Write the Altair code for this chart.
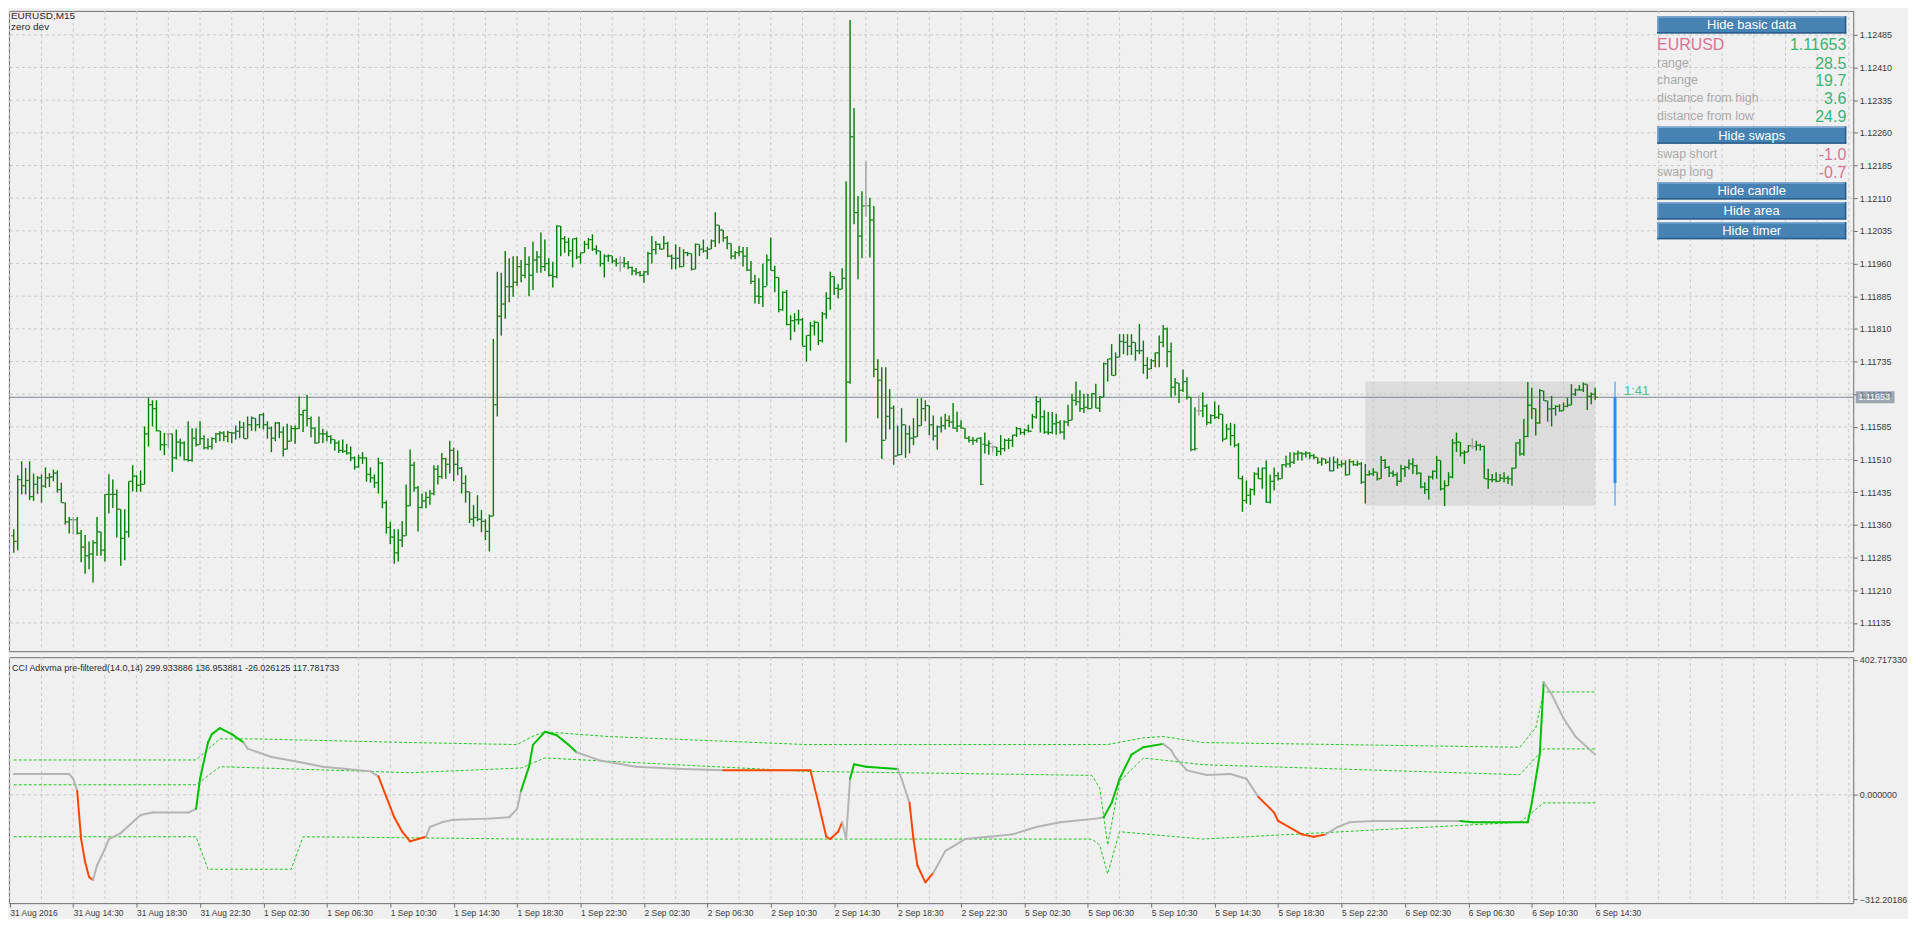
import json
import altair as alt
import pandas as pd

# ---------------- price data (points above 1.11000, 1 point = 0.00001) ----------------
BASE = 1.11000
PT = 0.00001

OPEN = [
335,322,464,450,462,425,453,468,449,468, 470,479,441,411,367,372,372,341,309,289,
293,319,344,302,430,430,430,396,329,344, 460,472,451,453,569,636,627,576,544,569,
569,514,550,548,510,508,559,544,558,537, 540,558,569,571,563,572,571,575,584,558,
590,605,590,613,590,582,559,594,573,534, 552,581,581,613,623,604,582,548,569,569,
563,556,548,531,529,525,514,493,514,514, 476,468,457,502,411,354,332,296,325,335,
404,497,445,400,415,423,432,488,471,512, 499,531,499,490,455,436,373,377,373,368,
345,380,636,839,867,907,907,917,953,933, 958,933,968,975,953,960,933,930,1046,1017,
1009,989,1017,975,985,1004,1015,993,989,960, 977,978,966,962,962,960,951,943,939,933,
941,983,992,1004,993,1006,977,972,972,953, 985,983,947,1004,993,989,993,1012,1048,1037,
1019,1006,977,985,987,977,945,919,885,884, 907,968,944,928,854,894,820,829,831,831,
770,795,817,825,783,844,880,930,903,901, 926,688,1251,1077,1023,1093,1093,1060,717,692,
554,609,628,518,521,590,569,559,562,588, 627,634,590,564,585,588,600,596,582,587,
582,559,554,554,559,545,543,539,539,529, 535,554,554,566,581,572,577,575,608,643,
608,573,572,592,595,573,596,600,646,643, 627,630,627,661,628,653,730,741,703,745,
781,779,770,779,760,760,726,718,737,755, 779,810,758,676,686,669,689,653,533,622,
622,633,595,611,607,614,557,580,565,543, 466,416,428,441,477,466,490,412,460,473,
466,498,500,504,523,525,523,525,519,515, 504,511,504,484,504,498,500,475,505,498,
500,458,475,477,481,466,508,492,479,475, 460,489,492,500,496,479,447,441,470,483,
508,443,450,470,548,550,525,527,540,540, 543,540,466,464,464,460,467,467,466,490,
548,523,563,635,627,594,668,645,626,627, 632,622,632,635,660,670,670,683,655,660,
]
HIGH = [
350,474,506,491,506,478,472,476,492,479, 487,485,457,411,378,378,378,348,337,322,
325,378,344,431,476,464,441,396,396,460, 497,474,485,586,652,646,646,576,571,571,
569,579,558,552,598,582,582,598,566,559, 561,571,575,575,576,573,588,599,596,609,
609,605,614,617,598,586,596,596,586,592, 588,588,655,624,659,609,584,609,581,575,
566,556,554,556,546,540,517,521,527,515, 492,476,514,504,416,367,350,350,369,453,
533,505,449,432,436,440,497,497,525,514, 553,537,531,493,474,436,406,428,394,373,
384,787,941,939,989,972,977,977,968,998, 977,1010,989,1031,1015,972,964,1048,1046,1023,
1019,1017,1020,985,1012,1019,1027,1002,989,981, 981,978,972,977,975,966,953,950,943,943,
987,1023,1012,1006,1023,1010,981,1004,998,993, 987,983,1006,1004,1015,998,1015,1078,1048,1037,
1023,1006,989,1000,998,998,966,934,926,960, 981,1020,955,928,896,899,841,846,854,835,
795,826,829,825,849,894,941,930,913,949, 1149,1519,1317,1115,1126,1195,1111,1092,740,722,
722,672,634,588,628,590,588,605,650,651, 646,634,611,588,608,615,611,640,620,600,
582,564,562,559,562,572,554,543,539,566, 558,559,567,585,582,581,590,615,656,651,
623,619,619,615,600,600,636,661,689,669, 661,661,663,684,656,733,741,775,756,798,
798,798,798,779,821,783,745,741,756,795, 819,813,779,697,686,717,699,653,630,657,
664,637,614,643,635,614,592,594,592,548, 473,462,444,481,492,492,508,475,492,481,
500,519,527,527,531,527,529,527,523,515, 515,511,515,517,513,508,508,511,508,508,
504,500,485,490,481,518,511,495,485,480, 498,496,510,513,498,480,458,473,485,518,
508,462,481,557,572,550,531,543,559,553, 546,542,489,477,481,477,481,473,492,550,
557,603,688,675,627,672,668,645,656,635, 637,641,652,683,673,681,687,683,664,675,
]
LOW = [
296,302,430,430,417,415,431,411,445,447, 460,434,411,361,340,338,338,274,248,258,
228,289,289,276,386,399,331,266,279,331, 437,436,436,453,540,586,575,531,520,537,
482,510,517,508,505,505,540,544,533,533, 533,548,552,552,550,548,556,559,558,558,
576,575,582,579,558,527,552,559,517,533, 552,546,580,573,586,561,546,548,548,552,
546,530,525,525,521,506,487,491,500,459, 457,445,432,398,340,316,271,276,309,335,
403,436,345,398,398,406,428,453,466,466, 478,460,474,432,411,364,356,368,343,325,
299,380,609,795,833,871,884,909,917,926, 885,899,939,939,943,930,905,926,977,985,
977,951,970,960,985,993,989,981,953,928, 964,960,953,941,951,947,933,933,930,916,
933,960,981,992,993,975,947,947,951,953, 977,944,947,977,985,970,993,998,1006,1010,
993,970,970,977,953,943,913,868,867,860, 909,944,894,848,852,818,784,803,820,770,
735,760,795,773,779,833,854,888,880,901, 549,684,1050,924,972,1068,974,699,605,511,
556,579,498,518,521,514,524,543,562,588, 598,566,554,533,572,579,585,581,573,581,
558,549,544,549,451,524,521,526,518,520, 529,534,539,562,567,566,572,581,604,572,
569,567,569,567,569,556,587,600,634,620, 617,625,627,628,619,653,689,703,703,745,
752,749,750,737,752,707,695,718,722,722, 768,722,653,657,640,665,648,529,531,611,
607,589,592,603,603,551,557,542,538,466, 390,409,406,428,466,443,411,409,439,462,
466,492,492,500,508,508,515,511,511,500, 496,500,483,483,489,492,473,475,496,495,
454,409,473,472,462,466,489,470,470,449, 458,470,487,477,475,444,431,418,464,466,
439,403,450,467,527,517,500,527,534,531, 531,466,443,458,458,460,458,454,450,490,
519,519,561,603,565,592,645,597,586,611, 620,622,630,635,656,668,665,624,637,647,
]
CLOSE = [
322,464,450,462,425,453,468,449,468,470, 479,441,411,367,372,372,341,309,289,293,
319,344,302,430,430,430,396,329,344,460, 472,451,453,569,636,627,576,544,544,569,
514,550,548,510,508,559,544,558,537,540, 558,569,571,563,572,571,575,584,558,590,
605,590,613,590,582,559,594,573,534,552, 581,581,613,623,604,582,548,569,569,563,
556,548,531,529,525,514,493,514,514,476, 468,457,502,411,354,332,296,325,335,404,
497,445,400,415,423,432,488,471,512,499, 531,499,490,455,436,373,377,373,368,345,
380,636,839,867,907,907,917,953,933,958, 933,968,975,953,960,933,930,1046,1017,1009,
989,1017,975,985,1004,1015,993,989,960,977, 978,966,960,962,960,951,943,939,933,941,
983,992,1004,993,1006,977,972,972,953,985, 983,947,1004,993,989,993,1012,1048,1037,1019,
1006,977,985,987,977,945,919,885,884,907, 968,944,928,854,894,820,829,831,831,770,
795,817,825,783,844,880,930,903,901,926, 688,1251,1077,1023,1092,1093,1060,717,692,554,
609,628,518,521,590,569,559,562,588,627, 634,590,564,585,588,600,596,582,587,582,
559,554,554,559,453,543,547,539,529,535, 554,554,566,581,572,577,575,608,643,608,
573,572,592,595,573,596,600,646,643,627, 630,627,661,628,653,730,741,703,745,781,
779,770,779,760,760,726,718,737,755,779, 810,758,676,686,669,689,653,533,535,622,
633,595,611,607,614,557,580,565,543,466, 416,428,441,477,466,490,412,460,473,466,
498,500,504,523,525,523,525,519,515,504, 511,504,484,504,498,500,475,505,498,500,
458,475,477,481,466,508,492,479,475,460, 489,492,500,496,479,447,441,470,483,508,
443,450,470,548,550,525,527,542,540,543, 540,466,464,464,460,467,467,466,490,548,
523,563,635,627,594,668,645,626,627,632, 622,632,635,660,670,670,683,655,660,653,
]
DOJI_BARS = [15, 39, 153, 215, 247, 299, 368]

LAST_PRICE = 1.11653
DAY_OPEN, DAY_HIGH, DAY_LOW = 1.11456, 1.11689, 1.11404
DAY_FIRST_BAR, LAST_BAR = 341, 399
TIMER_BAR, TIMER_TEXT = 404, "1:41"

TIME_IDX = [-1, 15, 31, 47, 63, 79, 95, 111, 127, 143, 159, 175, 191, 207, 223,
            239, 255, 271, 287, 303, 319, 335, 351, 367, 383, 399]
TIME_LABELS = ["31 Aug 2016", "31 Aug 14:30", "31 Aug 18:30", "31 Aug 22:30",
               "1 Sep 02:30", "1 Sep 06:30", "1 Sep 10:30", "1 Sep 14:30", "1 Sep 18:30",
               "1 Sep 22:30", "2 Sep 02:30", "2 Sep 06:30", "2 Sep 10:30", "2 Sep 14:30",
               "2 Sep 18:30", "2 Sep 22:30", "5 Sep 02:30", "5 Sep 06:30", "5 Sep 10:30",
               "5 Sep 14:30", "5 Sep 18:30", "5 Sep 22:30", "6 Sep 02:30", "6 Sep 06:30",
               "6 Sep 10:30", "6 Sep 14:30"]
PRICE_TICKS = [1.11135, 1.11210, 1.11285, 1.11360, 1.11435, 1.11510, 1.11585, 1.11660,
               1.11735, 1.11810, 1.11885, 1.11960, 1.12035, 1.12110, 1.12185, 1.12260,
               1.12335, 1.12410, 1.12485]
CCI_TICKS = [402.717330, 0.0, -312.201864]

# ---------------- indicator data ----------------
CCI_IDX = [0,14,15,16,17,18,19,20,21,23,24,27,32,35,44,46,47,49,50,52,55,58,59,65,72,78,84,90,92,94,
           96,98,100,102,104,105,108,111,120,125,127,128,130,131,134,137,140,142,148,157,169,179,201,
           203,205,206,208,209,210,211,212,215,223,224,226,227,228,230,232,235,240,246,252,258,264,
           273,275,277,279,282,285,290,292,293,296,301,307,311,314,318,319,325,328,331,334,337,343,
           365,368,382,383,385,386,388,391,394,399]
CCI_VAL = [62,62,48,12,-132,-200,-245,-254,-211,-161,-132,-114,-60,-53,-53,-42,48,156,181,199,181,
           156,138,113,98,84,77,70,55,-6,-67,-110,-139,-132,-125,-96,-82,-74,-71,-67,-42,12,84,149,
           188,178,149,127,102,84,77,73,73,-24,-125,-132,-110,-82,-132,48,91,84,77,48,-24,-132,-211,
           -261,-233,-168,-132,-125,-118,-96,-82,-71,-67,-24,48,120,142,152,134,113,73,59,62,48,-6,
           -53,-78,-118,-125,-118,-96,-82,-78,-78,-82,-82,-24,120,336,300,228,174,120]
# n = neutral, u = up, d = down (state of the segment that starts at each point)
CCI_STATE = "nnnddddnnnnnnnnuuuuuunnnnnnnddddddnnnnnnnuuuuuunnnnddddddnnuuunnddddnnnnnnnnuuuuunnnnnnnddddd" \
            "nnnnuuuuunnnn"

BAND_UP_IDX = [0,46,52,60,100,127,131,134,150,200,276,285,290,300,380,384,386,399]
BAND_UP_VAL = [104,104,167,167,156,150,175,188,174,150,150,170,174,156,142,200,307,307]
BAND_MID_IDX = [0,46,52,100,128,134,200,272,274,276,279,285,300,380,386,399]
BAND_MID_VAL = [30,30,84,66,80,110,70,58,20,-150,40,110,90,60,137,137]
BAND_LO_IDX = [0,46,49,70,73,130,272,274,276,279,300,380,386,399]
BAND_LO_VAL = [-125,-125,-222,-222,-125,-132,-132,-150,-236,-110,-132,-82,-24,-24]

INDICATOR_LABEL = "CCI Adxvma pre-filtered(14.0,14) 299.933886 136.953881 -26.026125 117.781733"
SYMBOL, PERIOD_LABEL, SUB_LABEL = "EURUSD", "EURUSD,M15", "zero dev"
INFO_ROWS = [("range", "28.5"), ("change", "19.7"), ("distance from high", "3.6"),
             ("distance from low", "24.9")]
SWAP_ROWS = [("swap short", "-1.0"), ("swap long", "-0.7")]
BUTTONS = ["Hide basic data", "Hide swaps", "Hide candle", "Hide area", "Hide timer"]

# ---------------- layout / style ----------------
W, HU, HL = 1852, 643, 247
FONT = "Liberation Sans"
GRID = "#c9c9c9"
BAR_GREEN = "#007c00"
xs = alt.Scale(domain=[-1.2, 464.1], nice=False, zero=False)
ysu = alt.Scale(domain=[1.11070, 1.12540], nice=False, zero=False)
ysl = alt.Scale(domain=[-323.2, 410.7], nice=False, zero=False)
one = pd.DataFrame({"k": [0]})

yaxis_u = alt.Axis(orient="right", values=PRICE_TICKS, format=".5f", grid=False, domain=False,
                   tickSize=4, tickColor="#6e6e6e", labelColor="#3a3a3a", labelFont=FONT,
                   labelFontSize=9, labelPadding=2, title=None)
xaxis_l = alt.Axis(values=TIME_IDX, orient="bottom",
                   labelExpr=f"{json.dumps(TIME_LABELS)}[indexof({json.dumps(TIME_IDX)}, datum.value)]",
                   grid=False, domain=False, tickSize=4, tickColor="#6e6e6e", labelAlign="left",
                   labelBaseline="top", labelPadding=1, labelFont=FONT, labelFontSize=8.5,
                   labelColor="#3a3a3a", labelOverlap=False, labelFlush=False, labelBound=False,
                   title=None)
yaxis_l = alt.Axis(orient="right", values=CCI_TICKS,
                   labelExpr="datum.value < 0 ? format(datum.value, '.5f') : format(datum.value, '.6f')",
                   grid=False, domain=False, tickSize=4, tickColor="#6e6e6e", labelColor="#3a3a3a",
                   labelFont=FONT, labelFontSize=9, labelPadding=2, title=None)


def xu(f):
    return alt.X(f, type="quantitative", scale=xs, axis=None)


def yu(f):
    return alt.Y(f, type="quantitative", scale=ysu, axis=yaxis_u)


def xl(f):
    return alt.X(f, type="quantitative", scale=xs, axis=xaxis_l)


def yl(f):
    return alt.Y(f, type="quantitative", scale=ysl, axis=yaxis_l)


def txt(s, x, y, **kw):
    return alt.Chart(one).mark_text(text=s, font=FONT, **kw).encode(x=alt.value(x), y=alt.value(y))


def box(x0, x1, y0, y1, color):
    return alt.Chart(one).mark_rect(color=color).encode(
        x=alt.value(x0), x2=alt.value(x1), y=alt.value(y0), y2=alt.value(y1))


bars = pd.DataFrame({
    "i": list(range(len(CLOSE))),
    "o": [BASE + v * PT for v in OPEN],
    "h": [BASE + v * PT for v in HIGH],
    "l": [BASE + v * PT for v in LOW],
    "c": [BASE + v * PT for v in CLOSE],
})
bars["col"] = ["#a0a0a0" if i in DOJI_BARS else BAR_GREEN for i in bars["i"]]
grid_idx = list(range(-1, 465, 8))

# ---------------- upper panel ----------------
area = alt.Chart(pd.DataFrame({"a": [DAY_FIRST_BAR], "b": [LAST_BAR], "lo": [DAY_LOW], "hi": [DAY_HIGH]})
                 ).mark_rect(color="#dcdcdc").encode(x=xu("a"), x2="b", y=yu("lo"), y2="hi")
vgrid_u = alt.Chart(pd.DataFrame({"g": grid_idx})).mark_rule(
    color=GRID, strokeDash=[3, 3], strokeWidth=1).encode(x=xu("g"))
hgrid_u = alt.Chart(pd.DataFrame({"p": PRICE_TICKS})).mark_rule(
    color=GRID, strokeDash=[3, 3], strokeWidth=1).encode(y=yu("p"))
pline = alt.Chart(pd.DataFrame({"p": [LAST_PRICE]})).mark_rule(
    color="#7a8594", strokeWidth=1).encode(y=yu("p"))

hl = alt.Chart(bars).mark_rule(strokeWidth=1.4).encode(
    x=xu("i"), y=yu("l"), y2="h", color=alt.Color("col:N", scale=None))
otick = alt.Chart(bars).mark_tick(orient="horizontal", size=2.5, thickness=1.2, xOffset=-1.5).encode(
    x=xu("i"), y=yu("o"), color=alt.Color("col:N", scale=None))
ctick = alt.Chart(bars).mark_tick(orient="horizontal", size=2.5, thickness=1.2, xOffset=1.5).encode(
    x=xu("i"), y=yu("c"), color=alt.Color("col:N", scale=None))

cdf = pd.DataFrame({"i": [TIMER_BAR], "lo": [DAY_LOW], "hi": [DAY_HIGH], "o": [DAY_OPEN],
                    "c": [LAST_PRICE], "t": [TIMER_TEXT]})
cwick = alt.Chart(cdf).mark_rule(color="#1e90ff", strokeWidth=1).encode(x=xu("i"), y=yu("lo"), y2="hi")
cbody = alt.Chart(cdf).mark_rule(color="#1e90ff", strokeWidth=3).encode(x=xu("i"), y=yu("o"), y2="c")
ctext = alt.Chart(cdf).mark_text(align="left", baseline="bottom", dx=9, dy=1, fontSize=13, font=FONT,
                                 color="#4cbf8c").encode(x=xu("i"), y=yu("c"), text="t")

lp = pd.DataFrame({"p": [LAST_PRICE], "t": [f"{LAST_PRICE:.5f}"]})
lpbox = alt.Chart(lp).mark_tick(orient="horizontal", size=39, thickness=12, color="#778899").encode(
    x=alt.value(W + 22), y=yu("p"))
lptxt = alt.Chart(lp).mark_text(align="left", baseline="middle", color="white", font=FONT,
                                fontSize=9).encode(x=alt.value(W + 5), y=yu("p"), text="t")

# info panel
PL, PR = W - 197, W - 7
PC = (PL + PR) / 2
panel = []
BTN_Y = [5.3, 116, 172, 192, 212]
for name, y0 in zip(BUTTONS, BTN_Y):
    y1 = y0 + 17.4
    panel += [box(PL, PR, y0, y1, "#4682b4"), box(PL, PR, y0, y0 + 1.5, "#7fa9d2"),
              box(PL, PL + 1.5, y0, y1, "#7fa9d2"), box(PL, PR, y1 - 1.5, y1, "#2c5c8a"),
              box(PR - 1.5, PR, y0, y1, "#2c5c8a"),
              txt(name, PC, (y0 + y1) / 2 + 0.5, align="center", baseline="middle",
                  color="white", fontSize=13)]
panel += [txt(SYMBOL, PL, 34, align="left", baseline="middle", color="#db7093", fontSize=16),
          txt(f"{LAST_PRICE:.5f}", PR, 34, align="right", baseline="middle", color="#3cb371", fontSize=16)]
for (lab, val), y in zip(INFO_ROWS, [52, 69.7, 87.7, 105.3]):
    panel += [txt(lab, PL, y, align="left", baseline="middle", color="#a9a9a9", fontSize=12.5),
              txt(val, PR, y + 1, align="right", baseline="middle", color="#3cb371", fontSize=16)]
for (lab, val), y in zip(SWAP_ROWS, [143.7, 162]):
    panel += [txt(lab, PL, y, align="left", baseline="middle", color="#a9a9a9", fontSize=12.5),
              txt(val, PR, y + 1, align="right", baseline="middle", color="#db7093", fontSize=16)]
panel += [txt(PERIOD_LABEL, 2, 0, align="left", baseline="top", color="#2a2a2a", fontSize=10),
          txt(SUB_LABEL, 2, 11, align="left", baseline="top", color="#2a2a2a", fontSize=10)]

upper = alt.layer(area, vgrid_u, hgrid_u, pline, hl, otick, ctick, cwick, cbody, ctext,
                  lpbox, lptxt, *panel).properties(width=W, height=HU)

# ---------------- lower panel ----------------
rows = []
for j in range(len(CCI_IDX) - 1):
    col = {"n": "#b4b4b4", "u": "#00c000", "d": "#ff4500"}[CCI_STATE[j]]
    rows.append({"seg": j, "i": CCI_IDX[j], "v": CCI_VAL[j], "col": col})
    rows.append({"seg": j, "i": CCI_IDX[j + 1], "v": CCI_VAL[j + 1], "col": col})
cci = pd.DataFrame(rows)

vgrid_l = alt.Chart(pd.DataFrame({"g": grid_idx})).mark_rule(
    color=GRID, strokeDash=[3, 3], strokeWidth=1).encode(x=xl("g"))
zgrid_l = alt.Chart(pd.DataFrame({"v": [0.0]})).mark_rule(
    color=GRID, strokeDash=[3, 3], strokeWidth=1).encode(y=yl("v"))


def band(ix, vals):
    return alt.Chart(pd.DataFrame({"i": ix, "v": vals})).mark_line(
        color="#1ec81e", strokeWidth=1, strokeDash=[3, 2]).encode(x=xl("i"), y=yl("v"))


cci_line = alt.Chart(cci).mark_line(strokeWidth=2, strokeCap="round", strokeJoin="round").encode(
    x=xl("i"), y=yl("v"), detail="seg:N", color=alt.Color("col:N", scale=None))
ind_label = txt(INDICATOR_LABEL, 3, 11, align="left", baseline="middle", color="#2a2a2a", fontSize=9)

lower = alt.layer(vgrid_l, zgrid_l, band(BAND_UP_IDX, BAND_UP_VAL), band(BAND_MID_IDX, BAND_MID_VAL),
                  band(BAND_LO_IDX, BAND_LO_VAL), cci_line, ind_label).properties(width=W, height=HL)

chart = alt.vconcat(upper, lower, spacing=3).properties(
    padding=0, background="#f0f0f0"
).configure_view(stroke="#6e6e6e", strokeWidth=1)

chart.save("out.html", embed_options={"renderer": "svg", "actions": False})
